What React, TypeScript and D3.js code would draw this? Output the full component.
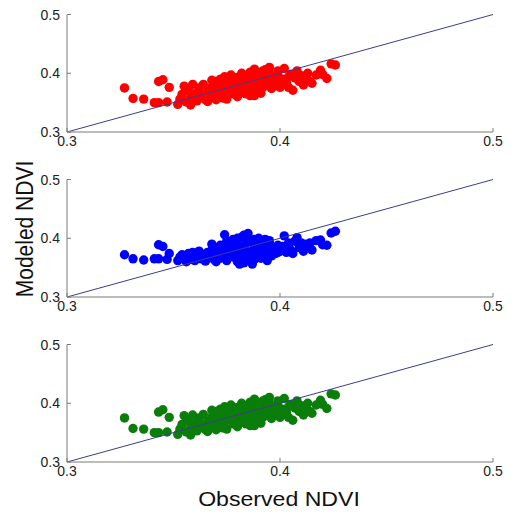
import React from "react";
import * as d3 from "d3";

const observed = [
  0.327, 0.331, 0.336, 0.341, 0.343, 0.343, 0.345, 0.348, 0.347, 0.352,
  0.353, 0.354, 0.355, 0.356, 0.357, 0.358, 0.359, 0.360, 0.361, 0.362,
  0.363, 0.364, 0.365, 0.366, 0.367, 0.368, 0.369, 0.370, 0.370, 0.371,
  0.372, 0.372, 0.373, 0.374, 0.374, 0.375, 0.376, 0.376, 0.377, 0.378,
  0.378, 0.379, 0.380, 0.380, 0.381, 0.382, 0.382, 0.383, 0.384, 0.384,
  0.385, 0.386, 0.386, 0.387, 0.388, 0.388, 0.389, 0.389, 0.390, 0.391,
  0.392, 0.392, 0.393, 0.394, 0.395, 0.396, 0.397, 0.398, 0.399, 0.400,
  0.401, 0.402, 0.403, 0.404, 0.405, 0.406, 0.407, 0.408, 0.409, 0.410,
  0.411, 0.412, 0.413, 0.414, 0.415, 0.417, 0.419, 0.420, 0.422, 0.424,
  0.426, 0.375, 0.380, 0.383, 0.379, 0.384, 0.386, 0.381, 0.377, 0.385,
  0.387, 0.390, 0.391, 0.393, 0.396, 0.398, 0.401, 0.395, 0.368, 0.366,
  0.358, 0.362, 0.370, 0.373, 0.399, 0.404, 0.388, 0.383,
];

const modeledRed = [
  0.375, 0.357, 0.356, 0.350, 0.350, 0.386, 0.389, 0.376, 0.351, 0.347,
  0.356, 0.364, 0.378, 0.351, 0.370, 0.358, 0.381, 0.365, 0.353, 0.375,
  0.360, 0.381, 0.355, 0.369, 0.360, 0.377, 0.364, 0.386, 0.355, 0.372,
  0.390, 0.362, 0.379, 0.368, 0.394, 0.356, 0.383, 0.372, 0.397, 0.365,
  0.386, 0.376, 0.360, 0.393, 0.381, 0.370, 0.400, 0.387, 0.375, 0.365,
  0.394, 0.381, 0.402, 0.370, 0.389, 0.407, 0.378, 0.396, 0.372, 0.386,
  0.404, 0.376, 0.393, 0.382, 0.400, 0.374, 0.389, 0.380, 0.397, 0.376,
  0.390, 0.408, 0.384, 0.376, 0.398, 0.371, 0.392, 0.404, 0.386, 0.396,
  0.380, 0.392, 0.400, 0.386, 0.383, 0.397, 0.405, 0.398, 0.391, 0.416,
  0.414, 0.388, 0.384, 0.396, 0.370, 0.389, 0.362, 0.366, 0.378, 0.385,
  0.380, 0.398, 0.366, 0.406, 0.386, 0.392, 0.382, 0.410, 0.388, 0.352,
  0.346, 0.368, 0.378, 0.358, 0.404, 0.394, 0.362, 0.377,
];

const modeledBlue = [
  0.372, 0.365, 0.363, 0.365, 0.365, 0.389, 0.386, 0.374, 0.364, 0.362,
  0.368, 0.372, 0.366, 0.360, 0.374, 0.368, 0.376, 0.362, 0.370, 0.378,
  0.365, 0.372, 0.361, 0.376, 0.368, 0.380, 0.364, 0.374, 0.360, 0.383,
  0.388, 0.366, 0.378, 0.372, 0.406, 0.362, 0.385, 0.376, 0.392, 0.368,
  0.398, 0.382, 0.360, 0.390, 0.376, 0.370, 0.402, 0.386, 0.380, 0.365,
  0.408, 0.374, 0.394, 0.356, 0.384, 0.398, 0.378, 0.390, 0.368, 0.396,
  0.386, 0.372, 0.380, 0.362, 0.392, 0.376, 0.384, 0.374, 0.388, 0.378,
  0.382, 0.404, 0.376, 0.386, 0.380, 0.374, 0.395, 0.401, 0.384, 0.392,
  0.378, 0.390, 0.384, 0.392, 0.380, 0.396, 0.397, 0.389, 0.388, 0.409,
  0.412, 0.395, 0.400, 0.405, 0.388, 0.392, 0.368, 0.356, 0.372, 0.398,
  0.362, 0.400, 0.366, 0.398, 0.370, 0.380, 0.386, 0.396, 0.390, 0.372,
  0.364, 0.374, 0.366, 0.380, 0.376, 0.392, 0.364, 0.358,
];

const modeledGreen = [
  0.375, 0.357, 0.356, 0.350, 0.350, 0.385, 0.389, 0.376, 0.351, 0.347,
  0.356, 0.364, 0.379, 0.351, 0.370, 0.358, 0.380, 0.365, 0.353, 0.375,
  0.360, 0.381, 0.355, 0.369, 0.360, 0.377, 0.364, 0.386, 0.355, 0.372,
  0.390, 0.362, 0.379, 0.368, 0.394, 0.356, 0.383, 0.372, 0.397, 0.365,
  0.386, 0.376, 0.360, 0.393, 0.381, 0.370, 0.400, 0.387, 0.375, 0.365,
  0.394, 0.381, 0.402, 0.370, 0.389, 0.407, 0.378, 0.396, 0.372, 0.386,
  0.404, 0.376, 0.393, 0.382, 0.400, 0.374, 0.389, 0.380, 0.397, 0.376,
  0.390, 0.408, 0.384, 0.376, 0.398, 0.371, 0.392, 0.404, 0.386, 0.396,
  0.380, 0.392, 0.400, 0.386, 0.383, 0.397, 0.405, 0.398, 0.391, 0.416,
  0.414, 0.388, 0.384, 0.396, 0.370, 0.389, 0.362, 0.366, 0.378, 0.385,
  0.380, 0.398, 0.366, 0.406, 0.386, 0.392, 0.382, 0.410, 0.388, 0.352,
  0.346, 0.368, 0.378, 0.358, 0.404, 0.394, 0.362, 0.377,
];

const ticks = [0.3, 0.4, 0.5];
const tickLabels = ["0.3", "0.4", "0.5"];
const panelSeries = [modeledRed, modeledBlue, modeledGreen];
const panelColors = ["#ff0000", "#0000ff", "#0a7d0a"];

const W = 512;
const H = 514;
const xLeft = 67;
const xRight = 493;
const panelTops = [14.5, 179.5, 344.5];
const panelH = 117.5;
const font = "'Liberation Sans', Arial, Helvetica, sans-serif";

export default function App() {
  const x = d3.scaleLinear().domain([0.3, 0.5]).range([xLeft, xRight]);
  return (
    <svg
      width={W}
      height={H}
      style={{ position: "absolute", left: 0, top: 0, background: "#fff" }}
    >
      {panelSeries.map((series, pi) => {
        const top = panelTops[pi];
        const y = d3.scaleLinear().domain([0.3, 0.5]).range([top + panelH, top]);
        const bottom = y(0.3);
        return (
          <g key={pi}>
            {series.map((v, i) => (
              <circle
                key={i}
                cx={x(observed[i])}
                cy={y(v)}
                r={4.7}
                fill={panelColors[pi]}
              />
            ))}
            <line
              x1={x(0.3)}
              y1={y(0.3)}
              x2={x(0.5)}
              y2={y(0.5)}
              stroke="#3d3d8f"
              strokeWidth={1}
            />
            <line x1={xLeft} y1={bottom} x2={xRight} y2={bottom} stroke="#7a7a7a" strokeWidth={1} />
            <line x1={xLeft} y1={top} x2={xLeft} y2={bottom} stroke="#7a7a7a" strokeWidth={1} />
            {ticks.map((t, ti) => (
              <g key={ti}>
                <line x1={x(t)} y1={bottom} x2={x(t)} y2={bottom - 4} stroke="#7a7a7a" />
                <line x1={xLeft} y1={y(t)} x2={xLeft + 4} y2={y(t)} stroke="#7a7a7a" />
                <text
                  x={x(t)}
                  y={bottom + 13.5}
                  textAnchor="middle"
                  fontFamily={font}
                  fontSize={14}
                  fill="#222"
                >
                  {tickLabels[ti]}
                </text>
                <text
                  x={xLeft - 7}
                  y={y(t) + 5}
                  textAnchor="end"
                  fontFamily={font}
                  fontSize={14}
                  fill="#222"
                >
                  {tickLabels[ti]}
                </text>
              </g>
            ))}
          </g>
        );
      })}
      <text
        transform="translate(33,229) scale(1.1,1) rotate(-90)"
        textAnchor="middle"
        fontFamily={font}
        fontSize={21}
        fill="#111"
      >
        Modeled NDVI
      </text>
      <text
        transform="translate(279,506) scale(1.1,1)"
        textAnchor="middle"
        fontFamily={font}
        fontSize={21}
        fill="#111"
      >
        Observed NDVI
      </text>
    </svg>
  );
}
